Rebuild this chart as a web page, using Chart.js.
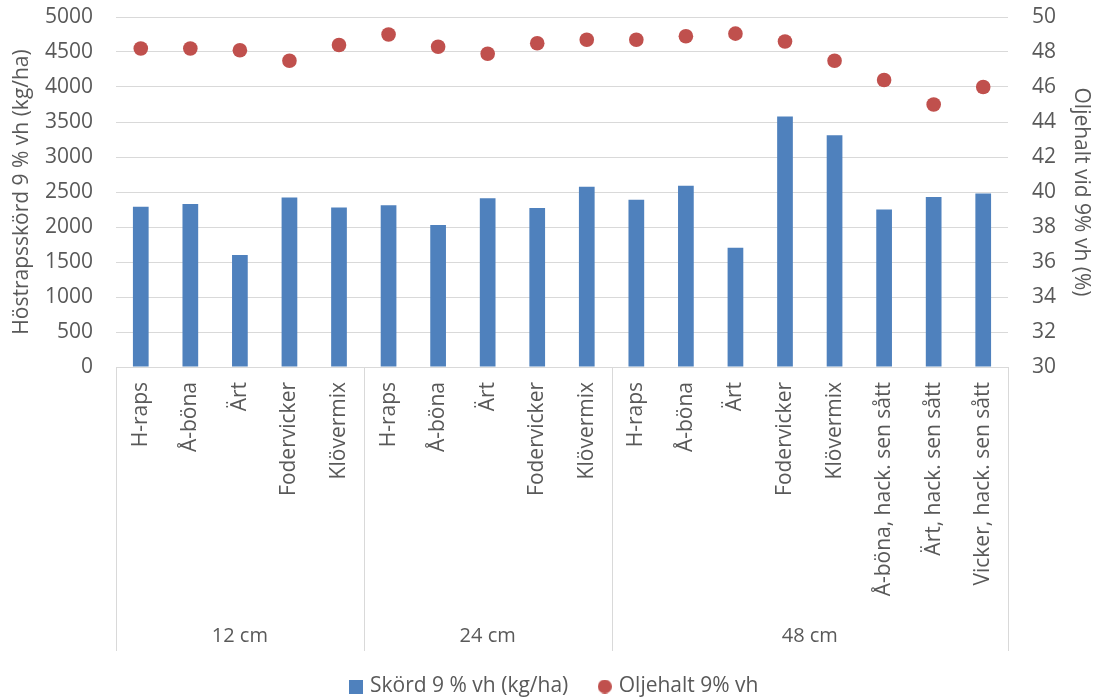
<!DOCTYPE html>
<html>
<head>
<meta charset="utf-8">
<script src="https://cdn.jsdelivr.net/npm/chart.js@4.4.1/dist/chart.umd.min.js"></script>
<style>
  html, body { margin: 0; padding: 0; background: #ffffff; }
  #wrap { width: 1095px; height: 699px; }
</style>
</head>
<body>
<div id="wrap"><canvas id="chart" width="1095" height="699"></canvas></div>
<script>
// Crops per plot, grouped by row spacing
const categories = [
  'H-raps', 'Å-böna', 'Ärt', 'Fodervicker', 'Klövermix',
  'H-raps', 'Å-böna', 'Ärt', 'Fodervicker', 'Klövermix',
  'H-raps', 'Å-böna', 'Ärt', 'Fodervicker', 'Klövermix',
  'Å-böna, hack. sen sått', 'Ärt, hack. sen sått', 'Vicker, hack. sen sått'
];
const groupLabels = ['12 cm', '24 cm', '48 cm'];
const groupSizes = [5, 5, 8];

// Winter rapeseed yield at 9 % moisture (kg/ha)
const yieldValues = [
  2290, 2330, 1600, 2420, 2280,
  2310, 2030, 2410, 2270, 2575,
  2390, 2590, 1705, 3580, 3310, 2250, 2430, 2480
];
// Oil content at 9 % moisture (%)
const oilValues = [
  48.2, 48.2, 48.1, 47.5, 48.4,
  49.0, 48.3, 47.9, 48.5, 48.7,
  48.7, 48.9, 49.05, 48.6, 47.5, 46.4, 45.0, 46.0
];

const yieldAxis = { min: 0, max: 5000, step: 500 };
const oilAxis = { min: 30, max: 50, step: 2 };

const seriesNames = ['Skörd 9 % vh (kg/ha)', 'Oljehalt 9% vh'];
const axisTitles = ['Höstrapsskörd 9 % vh (kg/ha)', 'Oljehalt vid 9% vh (%)'];

const FONT = "'Open Sans', 'Liberation Sans', sans-serif";
const TEXT = '#595959';
const GRID = '#d9d9d9';
const BLUE = '#4f81bd';
const RED = '#c0504d';
const CLEAR = 'rgba(0,0,0,0)';

// Small legend symbols: a square for the bars, a dot for the oil content
function legendMarker(shape, color) {
  const c = document.createElement('canvas');
  c.width = 14;
  c.height = 14;
  const g = c.getContext('2d');
  g.fillStyle = color;
  if (shape === 'circle') {
    g.beginPath();
    g.arc(7, 7, 7, 0, Math.PI * 2);
    g.fill();
  } else {
    g.fillRect(0, 0, 14, 14);
  }
  return c;
}
const legendMarkers = [legendMarker('circle', RED), legendMarker('rect', BLUE)];

// Second-level category axis: group separators and group names below the crop labels
const groupAxisPlugin = {
  id: 'groupAxis',
  afterDraw(chart) {
    const { ctx, chartArea, scales } = chart;
    const x = scales.x;
    const n = categories.length;
    const half = (x.getPixelForValue(1) - x.getPixelForValue(0)) / 2;
    const edge = (i) => (i < n ? x.getPixelForValue(i) - half : x.getPixelForValue(n - 1) + half);
    const top = chartArea.bottom;
    const bottom = top + 284;

    ctx.save();
    ctx.strokeStyle = GRID;
    ctx.lineWidth = 1;
    let idx = 0;
    const bounds = [0];
    groupSizes.forEach((s) => { idx += s; bounds.push(idx); });
    bounds.forEach((b) => {
      const px = Math.round(edge(b)) + 0.5;
      ctx.beginPath();
      ctx.moveTo(px, top);
      ctx.lineTo(px, bottom);
      ctx.stroke();
    });

    ctx.fillStyle = TEXT;
    ctx.font = `20px ${FONT}`;
    ctx.textAlign = 'center';
    ctx.textBaseline = 'middle';
    groupLabels.forEach((g, i) => {
      const cx = (edge(bounds[i]) + edge(bounds[i + 1])) / 2;
      ctx.fillText(g, cx, top + 269);
    });
    ctx.restore();
  }
};

const plainNumber = (v) => String(v);

new Chart(document.getElementById('chart'), {
  type: 'bar',
  data: {
    labels: categories,
    datasets: [
      {
        type: 'line',
        label: seriesNames[1],
        data: oilValues,
        yAxisID: 'y1',
        showLine: false,
        pointStyle: 'circle',
        pointRadius: 7.3,
        pointHoverRadius: 7.3,
        pointBorderWidth: 0,
        backgroundColor: RED,
        borderColor: RED,
        order: 0
      },
      {
        type: 'bar',
        label: seriesNames[0],
        data: yieldValues,
        yAxisID: 'y',
        backgroundColor: BLUE,
        borderWidth: 0,
        categoryPercentage: 1,
        barPercentage: 0.317,
        order: 1
      }
    ]
  },
  options: {
    responsive: false,
    animation: false,
    events: [],
    layout: { padding: { top: 17, bottom: -8, left: 16, right: 0 } },
    plugins: {
      tooltip: { enabled: false },
      legend: {
        position: 'bottom',
        reverse: true,
        labels: {
          usePointStyle: true,
          boxWidth: 7,
          padding: 33,
          color: TEXT,
          font: { family: FONT, size: 21 },
          generateLabels(chart) {
            const items = Chart.defaults.plugins.legend.labels.generateLabels(chart);
            items.forEach((it) => { it.pointStyle = legendMarkers[it.datasetIndex]; });
            return items;
          }
        }
      }
    },
    scales: {
      x: {
        type: 'category',
        afterFit(s) { s.height = 276; },
        grid: { display: false, drawTicks: false },
        border: { display: true, color: GRID, width: 1 },
        ticks: {
          autoSkip: false,
          minRotation: 90,
          maxRotation: 90,
          padding: 15,
          color: TEXT,
          font: { family: FONT, size: 21 }
        }
      },
      y: {
        position: 'left',
        min: yieldAxis.min,
        max: yieldAxis.max,
        afterFit(s) { s.width = 100; },
        grid: { color: GRID, lineWidth: 1, drawTicks: true, tickLength: 20, tickColor: CLEAR },
        border: { display: false },
        ticks: {
          stepSize: yieldAxis.step,
          callback: plainNumber,
          padding: 3,
          color: TEXT,
          font: { family: FONT, size: 21 }
        },
        title: {
          display: true,
          text: axisTitles[0],
          color: TEXT,
          font: { family: FONT, size: 21 },
          padding: { top: -6.6, bottom: 0 }
        }
      },
      y1: {
        position: 'right',
        min: oilAxis.min,
        max: oilAxis.max,
        afterFit(s) { s.width = 87; },
        grid: { drawOnChartArea: false, drawTicks: true, tickLength: 21, tickColor: CLEAR },
        border: { display: false },
        ticks: {
          stepSize: oilAxis.step,
          callback: plainNumber,
          padding: 3,
          color: TEXT,
          font: { family: FONT, size: 21 }
        },
        title: {
          display: true,
          text: axisTitles[1],
          color: TEXT,
          font: { family: FONT, size: 21 },
          padding: { top: 1, bottom: 0 }
        }
      }
    }
  },
  plugins: [groupAxisPlugin]
});
</script>
</body>
</html>
